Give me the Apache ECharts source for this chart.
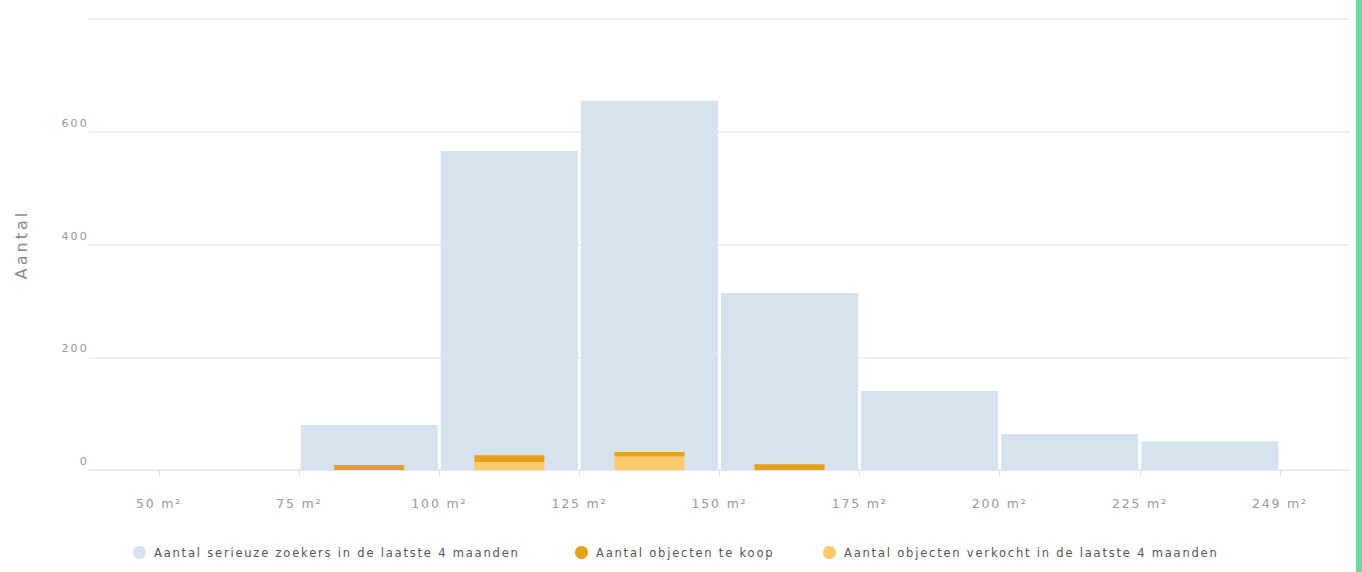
<!DOCTYPE html>
<html>
<head>
<meta charset="utf-8">
<script src="https://cdn.jsdelivr.net/npm/echarts@6/dist/echarts.min.js"></script>
<style>
  html, body { margin: 0; padding: 0; background: #fff; }
  #chart { width: 1362px; height: 572px; }
</style>
</head>
<body>
<div id="chart"></div>
<script>
// Bin boundary labels (surface in m²)
const binLabels = ['50 m²', '75 m²', '100 m²', '125 m²', '150 m²', '175 m²', '200 m²', '225 m²', '249 m²'];
// One value per bin (50-75, 75-100, ..., 225-249)
const zoekers = [0, 80, 566, 655, 314, 140, 64, 51];
const verkocht = [0, 0, 14, 24, 0, 0, 0, 0];
const teKoop = [0, 9, 12, 8, 10, 0, 0, 0];

const seriesNames = [
  'Aantal serieuze zoekers in de laatste 4 maanden',
  'Aantal objecten te koop',
  'Aantal objecten verkocht in de laatste 4 maanden'
];
const colors = ['#d6e3ee', '#e5a219', '#fdca6c'];

// [binIndex, value, base]
function toData(values, bases) {
  return values.map((v, i) => [i, v, bases ? bases[i] : 0]);
}

// Draws a bar spanning a whole bin (or a centred fraction of it)
function binBar(widthRatio, inset) {
  return function (params, api) {
    const i = api.value(0);
    const v = api.value(1);
    const base = api.value(2);
    if (!v) return null;
    const left = api.coord([i, base]);
    const right = api.coord([i + 1, base + v]);
    const full = right[0] - left[0];
    const w = full * widthRatio - inset * 2;
    const x = left[0] + (full - full * widthRatio) / 2 + inset;
    return {
      type: 'rect',
      shape: { x: x, y: right[1], width: w, height: left[1] - right[1] },
      style: { fill: api.visual('color') }
    };
  };
}

const chart = echarts.init(document.getElementById('chart'), null, { renderer: 'svg' });

const legendText = { fontFamily: 'DejaVu Sans', fontSize: 11.5, color: '#555', padding: [0, 0, 0, 3] };
function legendFor(name, left) {
  return {
    data: [name], left: left, top: 541, icon: 'circle',
    itemWidth: 13, itemHeight: 13, itemGap: 0,
    textStyle: legendText, selectedMode: false
  };
}

chart.setOption({
  animation: false,
  backgroundColor: '#fff',
  grid: { left: 89, right: 12, top: 19, bottom: 102 },
  legend: [
    legendFor(seriesNames[0], 128),
    legendFor(seriesNames[1], 570),
    legendFor(seriesNames[2], 818)
  ],
  xAxis: {
    type: 'value',
    min: -0.5,
    max: 8.5,
    splitLine: { show: false },
    axisLine: { show: true, lineStyle: { color: '#e8e8e8' } },
    axisTick: { show: true, length: 6, lineStyle: { color: '#e0e0e0' }, customValues: [0, 1, 2, 3, 4, 5, 6, 7, 8] },
    axisLabel: {
      customValues: [0, 1, 2, 3, 4, 5, 6, 7, 8],
      formatter: v => binLabels[Math.round(v)],
      color: '#999', fontFamily: 'DejaVu Sans', fontSize: 12.5, margin: 27
    }
  },
  yAxis: {
    type: 'value',
    min: 0,
    max: 800,
    interval: 200,
    name: 'Aantal',
    nameLocation: 'middle',
    nameGap: 60,
    nameRotate: 90,
    nameTextStyle: { color: '#888', fontFamily: 'DejaVu Sans', fontSize: 16 },
    axisLine: { show: false },
    axisTick: { show: false },
    splitLine: { lineStyle: { color: '#f0f0f0', width: 2 } },
    axisLabel: {
      formatter: v => (v === 800 ? '' : String(v)),
      color: '#999', fontFamily: 'DejaVu Sans', fontSize: 11,
      margin: 0, verticalAlign: 'bottom', padding: [0, 0, 3, 0]
    }
  },
  series: [
    {
      name: seriesNames[0], type: 'custom', itemStyle: { color: colors[0] },
      renderItem: binBar(1, 1.5), encode: { x: 0, y: 1 },
      data: toData(zoekers)
    },
    {
      name: seriesNames[2], type: 'custom', itemStyle: { color: colors[2] },
      renderItem: binBar(0.5, 0), encode: { x: 0, y: 1 },
      data: toData(verkocht)
    },
    {
      name: seriesNames[1], type: 'custom', itemStyle: { color: colors[1] },
      renderItem: binBar(0.5, 0), encode: { x: 0, y: 1 },
      data: toData(teKoop, verkocht)
    }
  ],
  graphic: [
    { type: 'rect', right: 0, top: 0, shape: { width: 6, height: 572 }, style: { fill: '#68dba0' } }
  ]
});

// Widen the tracking of the chart text, per text size
const tracking = { '11.5': 1.8, '12.5': 1.8, '11': 2.2, '16': 3 };
function applyTracking() {
  document.querySelectorAll('#chart text').forEach(t => {
    const fs = parseFloat(getComputedStyle(t).fontSize);
    const ls = tracking[String(fs)];
    if (ls) t.style.letterSpacing = ls + 'px';
  });
}
applyTracking();
chart.on('finished', applyTracking);
</script>
</body>
</html>
